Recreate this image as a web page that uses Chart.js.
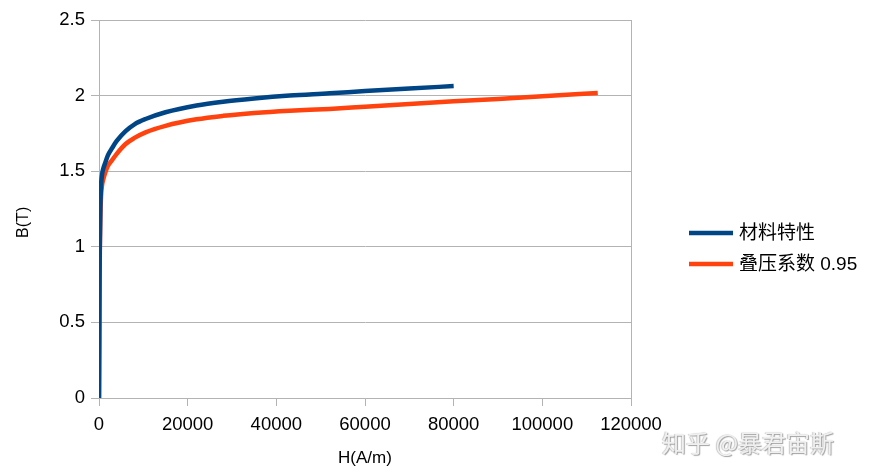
<!DOCTYPE html>
<html>
<head>
<meta charset="utf-8">
<script src="https://cdn.jsdelivr.net/npm/chart.js@4"></script>
<style>
  body { margin: 0; background: #fff; }
  #wrap { position: relative; width: 869px; height: 476px; }
  #mark {
    position: absolute; left: 662px; top: 424px;
    font: 24px "Noto Sans CJK SC", sans-serif;
    color: #f0f0f0; text-shadow: 1px 1px 1px #a0a0a0, -1px 0 1px #c8c8c8;
    white-space: nowrap;
  }
</style>
</head>
<body>
<div id="wrap">
  <canvas id="bh" width="869" height="476"></canvas>
  <div id="mark">知乎 @暴君宙斯</div>
</div>
<script>
// B-H curve
const materialH = [0, 60, 120, 200, 300, 450, 700, 1000, 1400, 2000, 3000, 4000, 6000, 8000, 10500, 15000, 22000, 28000, 35000, 43000, 52000, 60000, 70000, 80000];
const materialB = [0, 0.4, 0.8, 1.05, 1.25, 1.4, 1.48, 1.52, 1.555, 1.605, 1.655, 1.7, 1.765, 1.81, 1.845, 1.89, 1.935, 1.96, 1.981, 2.0, 2.015, 2.03, 2.047, 2.063];

const stackedH = [0, 60, 120, 200, 300, 450, 700, 1000, 1400, 2000, 3000, 4000, 6000, 8000, 10500, 15000, 22000, 28000, 35000, 43000, 52000, 60000, 70000, 80000, 90000, 100000, 112500];
const stackedB = [0, 0.38, 0.76, 1.0, 1.18, 1.33, 1.41, 1.45, 1.49, 1.535, 1.575, 1.615, 1.68, 1.72, 1.757, 1.8, 1.843, 1.866, 1.885, 1.9, 1.912, 1.927, 1.945, 1.962, 1.978, 1.996, 2.017];

const seriesNames = ["材料特性", "叠压系数 0.95"];
const seriesColors = ["#004586", "#ff420e"];

const xTicks = [0, 20000, 40000, 60000, 80000, 100000, 120000];
const yTicks = [0, 0.5, 1, 1.5, 2, 2.5];

const gridColor = "#b3b3b3";
const fontFamily = '"Liberation Sans", "Noto Sans CJK SC", sans-serif';

function toPoints(xs, ys) {
  return xs.map((x, i) => ({ x: x, y: ys[i] }));
}

// legend drawn by hand so it sits where the original one is
const sideLegend = {
  id: "sideLegend",
  afterDraw(chart) {
    const ctx = chart.ctx;
    ctx.save();
    ctx.font = "19px " + fontFamily;
    ctx.textBaseline = "middle";
    ctx.fillStyle = "#000";
    chart.data.datasets.forEach((ds, i) => {
      const y = 233 + i * 31;
      ctx.strokeStyle = ds.borderColor;
      ctx.lineWidth = 4.5;
      ctx.beginPath();
      ctx.moveTo(689, y);
      ctx.lineTo(733, y);
      ctx.stroke();
      ctx.fillText(ds.label, 739, y + 1);
    });
    ctx.restore();
  }
};

new Chart(document.getElementById("bh"), {
  type: "line",
  data: {
    datasets: [
      {
        label: seriesNames[0],
        data: toPoints(materialH, materialB),
        borderColor: seriesColors[0],
        borderWidth: 4.5,
        pointRadius: 0,
        cubicInterpolationMode: "monotone",
      },
      {
        label: seriesNames[1],
        data: toPoints(stackedH, stackedB),
        borderColor: seriesColors[1],
        borderWidth: 4.5,
        pointRadius: 0,
        cubicInterpolationMode: "monotone",
      },
    ],
  },
  options: {
    responsive: false,
    animation: false,
    layout: { padding: { top: 20, right: 238, left: 0, bottom: 0 } },
    plugins: {
      legend: { display: false },
      tooltip: { enabled: false },
    },
    scales: {
      x: {
        type: "linear",
        min: 0,
        max: 120000,
        afterBuildTicks: (s) => { s.ticks = xTicks.map(v => ({ value: v })); },
        afterFit: (s) => { s.height = 78; },
        ticks: {
          color: "#000",
          padding: 8,
          maxRotation: 0,
          font: { family: fontFamily, size: 18.5 },
          callback: (v) => String(v),
        },
        grid: {
          color: (c) => (c.index === xTicks.length - 1 ? gridColor : "rgba(0,0,0,0)"),
          tickColor: gridColor,
          tickLength: 8,
        },
        border: { color: gridColor },
        title: {
          display: true,
          text: "H(A/m)",
          color: "#000",
          font: { family: fontFamily, size: 17 },
          padding: { top: 0, bottom: 7 },
        },
      },
      y: {
        min: 0,
        max: 2.5,
        afterBuildTicks: (s) => { s.ticks = yTicks.map(v => ({ value: v })); },
        afterFit: (s) => { s.width = 99; },
        ticks: {
          color: "#000",
          padding: 6,
          font: { family: fontFamily, size: 18.5 },
          callback: (v) => String(v),
        },
        grid: { color: gridColor, tickColor: gridColor, tickLength: 8 },
        border: { color: gridColor },
        title: {
          display: true,
          // trailing spaces nudge the rotated title down a bit, like the original
          text: "B(T)      ",
          color: "#000",
          font: { family: fontFamily, size: 16 },
          padding: { top: 14, bottom: 0 },
        },
      },
    },
  },
  plugins: [sideLegend],
});
</script>
</body>
</html>
